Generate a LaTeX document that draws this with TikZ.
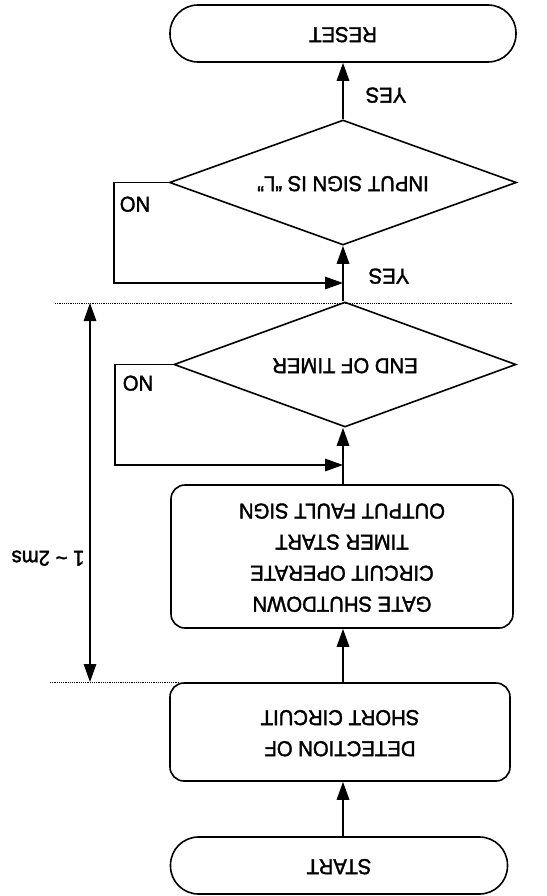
\documentclass[tikz,border=0pt]{standalone}
\usepackage{fontspec}
\setmainfont{Liberation Sans}[FakeBold=1.8]
\usetikzlibrary{arrows.meta,shapes.geometric}
\newcommand{\flip}[1]{\rotatebox{180}{\scalebox{1}[1.06]{\begin{tabular}{@{}c@{}}#1\end{tabular}}}}
\begin{document}
\begin{tikzpicture}[x=1pt,y=-1pt,
  line width=1.6pt,
  font=\fontsize{20.3}{29.3}\selectfont,
  tip/.tip={Triangle[length=18pt,width=12.5pt]},
  arr/.style={-tip},
  dimarr/.style={tip-tip},
  term/.style={draw,rectangle,rounded corners=28pt,minimum width=346pt,minimum height=57pt,inner sep=0pt},
  proc/.style={draw,rectangle,rounded corners=14pt,minimum width=342pt,inner sep=0pt},
  dec/.style={draw,diamond,aspect=2.75,inner sep=0pt},
  lbl/.style={inner sep=0pt},
  dots/.style={line width=1pt,dash pattern=on 1.1pt off 1.1pt}]
\useasboundingbox (0,0) rectangle (546,896);
% nodes
\node[term] (reset) at (343,33.5) {\flip{RESET}};
\node[dec,minimum width=347pt,minimum height=125pt] (d1) at (343,182.5) {\flip{INPUT SIGN IS “L”}};
\node[dec,minimum width=342pt,minimum height=125pt] (d2) at (345,364.5) {\flip{END OF TIMER}};
\node[proc,minimum height=143pt] (box2) at (342,556.5) {\flip{GATE SHUTDOWN\\CIRCUIT OPERATE\\TIMER START\\OUTPUT FAULT SIGN}};
\node[proc,minimum height=98pt,minimum width=340pt] (box3) at (340,732) {\flip{DETECTION OF\\SHORT CIRCUIT}};
\node[term,minimum width=337pt] (start) at (339,865.5) {\flip{START}};
% junctions
\coordinate (j1) at (343,283);
\coordinate (j2) at (343,465);
% main flow
\draw[arr] (start.north -| j1) -- (box3.south -| j1);
\draw[arr] (box3.north -| j1) -- (box2.south -| j1);
\draw[arr] (box2.north -| j1) -- (d2.south -| j1);
\draw[arr] (d2.north -| j1) -- (d1.south -| j1);
\draw[arr] (d1.north) -- (reset.south -| d1.north);
% no loops
\draw[arr] (d1.west) -- ++(-55,0) |- (j1);
\draw[arr] (d2.west) -- ++(-58,0) |- (j2);
% labels
\node[lbl] (yes1) at (386,94) {\flip{YES}};
\node[lbl] (yes2) at (389,275) {\flip{YES}};
\node[lbl] (no1) at (135,203) {\flip{NO}};
\node[lbl] (no2) at (138,382) {\flip{NO}};
% timing dimension
\coordinate (dl1) at (55,303);
\coordinate (dr1) at (512,303);
\coordinate (dl2) at (50,682);
\coordinate (dr2) at (178,682);
\draw[dots] (dl1) -- (dr1);
\draw[dots] (dl2) -- (dr2);
\coordinate (dt) at (90,303);
\coordinate (db) at (90,682);
\draw[dimarr] (dt) -- (db);
\node[lbl] (dim) at (48,557) {\flip{1 \textasciitilde{} 2ms}};
\end{tikzpicture}
\end{document}
